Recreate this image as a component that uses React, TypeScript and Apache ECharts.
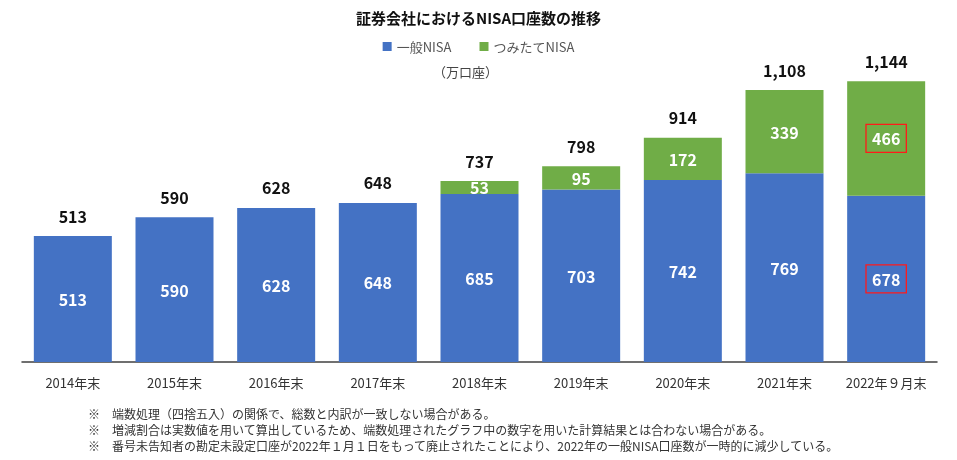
import React, { useEffect, useRef } from "react";
import * as echarts from "echarts";

const categories = ["2014年末", "2015年末", "2016年末", "2017年末", "2018年末", "2019年末", "2020年末", "2021年末", "2022年９月末"];
const general = [513, 590, 628, 648, 685, 703, 742, 769, 678];
const tsumitate: (number | null)[] = [null, null, null, null, 53, 95, 172, 339, 466];
const totals = [513, 590, 628, 648, 737, 798, 914, 1108, 1144];
const notes = [
  "※　端数処理（四捨五入）の関係で、総数と内訳が一致しない場合がある。",
  "※　増減割合は実数値を用いて算出しているため、端数処理されたグラフ中の数字を用いた計算結果とは合わない場合がある。",
  "※　番号未告知者の勘定未設定口座が2022年１月１日をもって廃止されたことにより、2022年の一般NISA口座数が一時的に減少している。",
];

const FONT = "'Noto Sans CJK JP', 'Noto Sans', sans-serif";
const BLUE = "#4472C4";
const GREEN = "#70AD47";

export default function App() {
  const ref = useRef<HTMLDivElement>(null);
  useEffect(() => {
    if (!ref.current) return;
    const chart = echarts.init(ref.current, undefined, { renderer: "svg" });
    const boxed = (i: number) => i === categories.length - 1;
    const inLabel = {
      show: true,
      position: "inside",
      color: "#fff",
      fontWeight: "bold",
      fontSize: 16,
      fontFamily: FONT,
    };
    const boxLabel = { ...inLabel, borderColor: "#ff1a1a", borderWidth: 1.3, padding: [7, 6, 5, 6] };
    chart.setOption({
      animation: false,
      textStyle: { fontFamily: FONT },
      title: {
        text: "証券会社におけるNISA口座数の推移",
        left: "center",
        top: 5,
        textStyle: { fontSize: 15, fontWeight: "bold", color: "#111", fontFamily: FONT },
      },
      legend: {
        top: 35,
        left: "center",
        itemWidth: 9,
        itemHeight: 9,
        itemGap: 28,
        icon: "rect",
        textStyle: { fontSize: 13, color: "#555", fontFamily: FONT },
        data: ["一般NISA", "つみたてNISA"],
      },
      grid: { left: 22, right: 20, top: 43, bottom: 98, containLabel: false },
      xAxis: {
        type: "category",
        data: categories,
        axisTick: { show: false },
        axisLine: { lineStyle: { color: "#404040", width: 1.5 } },
        axisLabel: { color: "#333", fontSize: 13, margin: 14, interval: 0, fontFamily: FONT },
      },
      yAxis: { type: "value", min: 0, max: 1300, show: false, splitLine: { show: false } },
      series: [
        {
          name: "一般NISA",
          type: "bar",
          stack: "t",
          barWidth: 78,
          itemStyle: { color: BLUE },
          data: general.map((v, i) => ({ value: v, label: boxed(i) ? boxLabel : inLabel })),
          label: inLabel,
        },
        {
          name: "つみたてNISA",
          type: "bar",
          stack: "t",
          barWidth: 78,
          itemStyle: { color: GREEN },
          data: tsumitate.map((v, i) => ({ value: v, label: boxed(i) ? boxLabel : inLabel })),
          label: inLabel,
        },
        {
          name: "合計",
          type: "line",
          data: totals,
          symbol: "circle",
          symbolSize: 1,
          itemStyle: { color: "rgba(0,0,0,0)" },
          lineStyle: { opacity: 0 },
          silent: true,
          label: {
            show: true,
            position: "top",
            distance: 12,
            color: "#111",
            fontWeight: "bold",
            fontSize: 16,
            fontFamily: FONT,
            formatter: (p: any) => Number(p.value).toLocaleString("en-US"),
          },
        },
      ],
      graphic: [
        {
          type: "text",
          left: 433,
          top: 65,
          style: { text: "（万口座）", fontSize: 13, fill: "#444", fontFamily: FONT },
        },
        ...notes.map((t, i) => ({
          type: "text",
          left: 88,
          top: 407 + i * 16,
          style: { text: t, fontSize: 12, fill: "#333", fontFamily: FONT },
        })),
      ],
    });
    return () => chart.dispose();
  }, []);
  return <div ref={ref} style={{ position: "fixed", left: 0, top: 0, width: 957, height: 460 }} />;
}
